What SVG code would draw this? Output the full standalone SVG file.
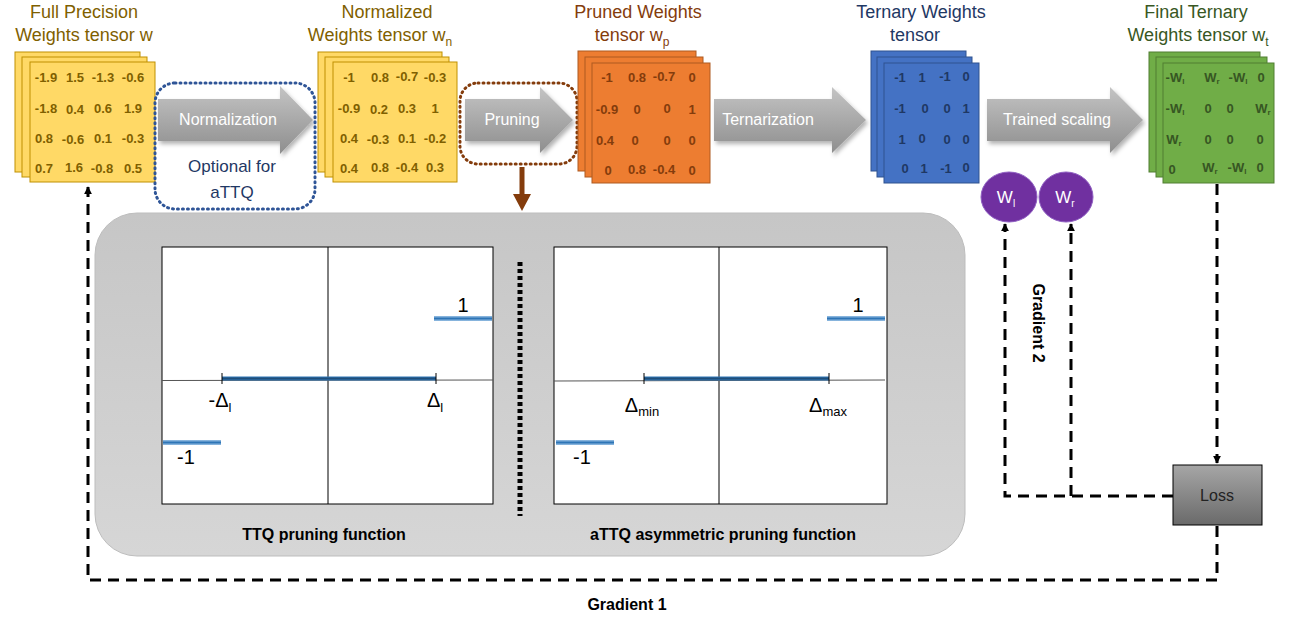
<svg xmlns="http://www.w3.org/2000/svg" width="1305" height="621" viewBox="0 0 1305 621">
<defs>
<linearGradient id="arrowG" x1="0" y1="0" x2="0" y2="1">
<stop offset="0" stop-color="#c4c4c4"/><stop offset="1" stop-color="#8e8e8e"/>
</linearGradient>
<linearGradient id="panelG" x1="0" y1="0" x2="0" y2="1">
<stop offset="0" stop-color="#c6c6c6"/><stop offset="1" stop-color="#d6d6d6"/>
</linearGradient>
<linearGradient id="lossG" x1="0" y1="0" x2="0" y2="1">
<stop offset="0" stop-color="#a6a6a6"/><stop offset="1" stop-color="#6a6a6a"/>
</linearGradient>
<linearGradient id="stepG" x1="0" y1="0" x2="0" y2="1">
<stop offset="0" stop-color="#9dc3e6"/><stop offset="0.5" stop-color="#2e75b6"/><stop offset="1" stop-color="#9dc3e6"/>
</linearGradient>
<linearGradient id="stepD" x1="0" y1="0" x2="0" y2="1">
<stop offset="0" stop-color="#2e75b6"/><stop offset="0.5" stop-color="#1f4e79"/><stop offset="1" stop-color="#2e75b6"/>
</linearGradient>
<filter id="sh" x="-10%" y="-10%" width="130%" height="140%">
<feDropShadow dx="2" dy="3" stdDeviation="2" flood-color="#000" flood-opacity="0.3"/>
</filter>
<marker id="ah" viewBox="0 0 10 10" refX="9" refY="5" markerWidth="8" markerHeight="8" markerUnits="userSpaceOnUse" orient="auto">
<path d="M0,0 L10,5 L0,10 Z" fill="#000"/>
</marker>
<style>
.lbl{font-family:"Liberation Sans",Arial,sans-serif;font-size:18px;text-anchor:middle}
.cell{font-family:"Liberation Sans",Arial,sans-serif;font-size:13px;font-weight:bold;text-anchor:middle}
.arrtxt{font-family:"Liberation Sans",Arial,sans-serif;font-size:16px;fill:#fff;text-anchor:middle}
.ax{stroke:#000;stroke-width:1;fill:none}
.gtxt{font-family:"Liberation Sans",Arial,sans-serif;font-size:20px;fill:#000;text-anchor:middle}
.btxt{font-family:"Liberation Sans",Arial,sans-serif;font-size:16px;font-weight:bold;fill:#000;text-anchor:middle}
.dash{stroke:#000;stroke-width:3;stroke-dasharray:11 7;fill:none}
.y{fill:#ffd966;stroke:#bf9000;stroke-width:1}
.o{fill:#ed7d31;stroke:#ae5a21;stroke-width:1}
.b{fill:#4472c4;stroke:#2f528f;stroke-width:1}
.g{fill:#70ad47;stroke:#507e32;stroke-width:1}
.st{fill:url(#stepG)}
.sd{fill:url(#stepD)}
</style>
</defs>
<rect width="1305" height="621" fill="#fff"/>

<!-- gray panel -->
<g id="panel">
<rect x="95" y="213" width="870" height="343" rx="42" fill="url(#panelG)" stroke="#bdbdbd" stroke-width="1"/>
</g>

<!-- Full precision tensor -->
<g id="tensor-full">
<text class="lbl" x="84" y="18" fill="#7f6000">Full Precision</text>
<text class="lbl" x="84" y="41" fill="#7f6000">Weights tensor w</text>
<rect class="y" x="15" y="52" width="125" height="120"/>
<rect class="y" x="22" y="57" width="125" height="120"/>
<rect class="y" x="30" y="62" width="125" height="120"/>
<g class="cell" fill="#7f6000">
<text x="46" y="82">-1.9</text><text x="75" y="82">1.5</text><text x="103" y="82">-1.3</text><text x="133" y="82">-0.6</text>
<text x="46" y="113">-1.8</text><text x="75" y="114">0.4</text><text x="103" y="113">0.6</text><text x="133" y="113">1.9</text>
<text x="44" y="143">0.8</text><text x="73" y="144">-0.6</text><text x="103" y="143">0.1</text><text x="133" y="143">-0.3</text>
<text x="44" y="173">0.7</text><text x="74" y="172">1.6</text><text x="102" y="173">-0.8</text><text x="133" y="173">0.5</text>
</g>
</g>

<!-- Normalization arrow + optional box -->
<g id="normalization">
<path d="M158,99 H280 V86 L313,120 L280,154 V141 H158 Z" fill="url(#arrowG)" filter="url(#sh)"/>
<text class="arrtxt" x="228" y="125">Normalization</text>
<rect x="155" y="83" width="160" height="126" rx="20" fill="none" stroke="#2f5597" stroke-width="3" stroke-dasharray="1 4" stroke-linecap="round"/>
<text class="lbl" x="232" y="172" fill="#1f3864" style="font-size:17px">Optional for</text>
<text class="lbl" x="232" y="198" fill="#1f3864" style="font-size:17px">aTTQ</text>
</g>

<!-- Normalized tensor -->
<g id="tensor-normalized">
<text class="lbl" x="387" y="18" fill="#7f6000">Normalized</text>
<text class="lbl" x="380" y="41" fill="#7f6000">Weights tensor w<tspan dy="5" font-size="12">n</tspan></text>
<rect class="y" x="318" y="52" width="124" height="120"/>
<rect class="y" x="325" y="57" width="124" height="120"/>
<rect class="y" x="333" y="62" width="124" height="120"/>
<g class="cell" fill="#7f6000">
<text x="349" y="82">-1</text><text x="380" y="82">0.8</text><text x="407" y="81">-0.7</text><text x="435" y="82">-0.3</text>
<text x="349" y="113">-0.9</text><text x="379" y="114">0.2</text><text x="407" y="113">0.3</text><text x="435" y="113">1</text>
<text x="349" y="143">0.4</text><text x="378" y="144">-0.3</text><text x="407" y="143">0.1</text><text x="435" y="143">-0.2</text>
<text x="349" y="173">0.4</text><text x="380" y="172">0.8</text><text x="407" y="172">-0.4</text><text x="435" y="172">0.3</text>
</g>
</g>

<!-- Pruning arrow + box -->
<g id="pruning">
<path d="M465,99 H540 V87 L573,120 L540,153 V141 H465 Z" fill="url(#arrowG)" filter="url(#sh)"/>
<text class="arrtxt" x="512" y="125">Pruning</text>
<rect x="460" y="83" width="117" height="81" rx="18" fill="none" stroke="#843c0c" stroke-width="3" stroke-dasharray="1 4" stroke-linecap="round"/>
<path d="M519.5,167 H524.5 V194 H531 L522,211 L513,194 H519.5 Z" fill="#843c0c"/>
</g>

<!-- Pruned tensor -->
<g id="tensor-pruned">
<text class="lbl" x="638" y="18" fill="#843c0c">Pruned Weights</text>
<text class="lbl" x="632" y="41" fill="#843c0c">tensor w<tspan dy="5" font-size="12">p</tspan></text>
<rect class="o" x="578" y="51" width="118" height="120"/>
<rect class="o" x="585" y="57" width="118" height="120"/>
<rect class="o" x="592" y="63" width="118" height="120"/>
<g class="cell" fill="#843c0c">
<text x="607" y="82">-1</text><text x="637" y="82">0.8</text><text x="664" y="81">-0.7</text><text x="692" y="82">0</text>
<text x="607" y="114">-0.9</text><text x="637" y="114">0</text><text x="667" y="113">0</text><text x="692" y="114">1</text>
<text x="605" y="145">0.4</text><text x="635" y="145">0</text><text x="667" y="145">0</text><text x="692" y="145">0</text>
<text x="608" y="175">0</text><text x="637" y="174">0.8</text><text x="664" y="174">-0.4</text><text x="692" y="175">0</text>
</g>
</g>

<!-- Ternarization arrow -->
<g id="ternarization">
<path d="M714,99 H832 V87 L866,120 L832,153 V141 H714 Z" fill="url(#arrowG)" filter="url(#sh)"/>
<text class="arrtxt" x="768" y="125">Ternarization</text>
</g>

<!-- Ternary tensor -->
<g id="tensor-ternary">
<text class="lbl" x="921" y="18" fill="#1f3864">Ternary Weights</text>
<text class="lbl" x="915" y="41" fill="#1f3864">tensor</text>
<rect class="b" x="871" y="51" width="95" height="120"/>
<rect class="b" x="877" y="57" width="95" height="120"/>
<rect class="b" x="884" y="63" width="95" height="120"/>
<g class="cell" fill="#1f3864">
<text x="900" y="82">-1</text><text x="922" y="82">1</text><text x="945" y="81">-1</text><text x="966" y="81">0</text>
<text x="900" y="113">-1</text><text x="925" y="113">0</text><text x="947" y="113">0</text><text x="966" y="113">1</text>
<text x="902" y="144">1</text><text x="922" y="143">0</text><text x="947" y="144">0</text><text x="966" y="144">0</text>
<text x="905" y="173">0</text><text x="924" y="173">1</text><text x="946" y="173">-1</text><text x="966" y="172">0</text>
</g>
</g>

<!-- Trained scaling arrow -->
<g id="trained-scaling">
<path d="M987,99 H1110 V87 L1143,120 L1110,153 V141 H987 Z" fill="url(#arrowG)" filter="url(#sh)"/>
<text class="arrtxt" x="1057" y="125">Trained scaling</text>
</g>

<!-- Final tensor -->
<g id="tensor-final">
<text class="lbl" x="1196" y="18" fill="#385723">Final Ternary</text>
<text class="lbl" x="1198" y="41" fill="#385723">Weights tensor w<tspan dy="5" font-size="12">t</tspan></text>
<rect class="g" x="1149" y="52" width="111" height="120"/>
<rect class="g" x="1156" y="57" width="111" height="120"/>
<rect class="g" x="1163" y="63" width="111" height="120"/>
<g class="cell" fill="#375623">
<text x="1175" y="82">-W<tspan font-size="8" dy="2">l</tspan></text><text x="1212" y="82">W<tspan font-size="8" dy="2">r</tspan></text><text x="1238" y="82">-W<tspan font-size="8" dy="2">l</tspan></text><text x="1261" y="82">0</text>
<text x="1175" y="113">-W<tspan font-size="8" dy="2">l</tspan></text><text x="1208" y="113">0</text><text x="1230" y="113">0</text><text x="1263" y="113">W<tspan font-size="8" dy="2">r</tspan></text>
<text x="1174" y="144">W<tspan font-size="8" dy="2">r</tspan></text><text x="1208" y="144">0</text><text x="1230" y="144">0</text><text x="1260" y="144">0</text>
<text x="1172" y="174">0</text><text x="1210" y="172">W<tspan font-size="8" dy="2">r</tspan></text><text x="1237" y="172">-W<tspan font-size="8" dy="2">l</tspan></text><text x="1260" y="172">0</text>
</g>
</g>

<!-- Wl / Wr -->
<g id="wl">
<ellipse cx="1009" cy="197" rx="28" ry="25" fill="#7030a0" stroke="#8f5fc2" stroke-width="1"/>
<text x="1006" y="203" fill="#fff" font-family="Liberation Sans, Arial, sans-serif" font-size="17" text-anchor="middle">W<tspan font-size="10" dy="4">l</tspan></text>
</g>
<g id="wr">
<ellipse cx="1066" cy="197" rx="27" ry="25" fill="#7030a0" stroke="#8f5fc2" stroke-width="1"/>
<text x="1065" y="203" fill="#fff" font-family="Liberation Sans, Arial, sans-serif" font-size="17" text-anchor="middle">W<tspan font-size="10" dy="4">r</tspan></text>
</g>

<!-- Loss -->
<g id="loss">
<rect x="1173" y="465" width="89" height="60" fill="url(#lossG)" stroke="#000" stroke-width="1"/>
<text x="1217" y="501" font-family="Liberation Sans, Arial, sans-serif" font-size="16" fill="#222" text-anchor="middle">Loss</text>
</g>

<!-- TTQ graph -->
<g id="graph-ttq">
<rect x="162" y="247" width="331" height="257" fill="#fff" stroke="#000" stroke-width="1"/>
<line class="ax" x1="328" y1="247" x2="328" y2="504"/>
<line x1="162" y1="380.5" x2="493" y2="380" stroke="#555" stroke-width="1"/>
<rect class="sd" x="222" y="376.5" width="214" height="4"/>
<line class="ax" x1="222" y1="373" x2="222" y2="384"/>
<line class="ax" x1="436" y1="373" x2="436" y2="384"/>
<rect class="st" x="434" y="316" width="58" height="5"/>
<rect class="st" x="163" y="440" width="58" height="5"/>
<text class="gtxt" x="463" y="312">1</text>
<text class="gtxt" x="220" y="407">-Δ<tspan font-size="13" dy="5">l</tspan></text>
<text class="gtxt" x="435" y="407">Δ<tspan font-size="13" dy="5">l</tspan></text>
<text class="gtxt" x="186" y="464">-1</text>
<text class="btxt" x="324" y="540">TTQ pruning function</text>
</g>

<!-- separator -->
<line id="separator" x1="520" y1="262" x2="520" y2="516" stroke="#000" stroke-width="5" stroke-dasharray="4 3"/>

<!-- aTTQ graph -->
<g id="graph-attq">
<rect x="554" y="247" width="333" height="257" fill="#fff" stroke="#000" stroke-width="1"/>
<line class="ax" x1="719" y1="247" x2="719" y2="504"/>
<line x1="554" y1="381" x2="885" y2="380" stroke="#555" stroke-width="1"/>
<rect class="sd" x="644" y="376.5" width="185" height="4"/>
<line class="ax" x1="644" y1="373" x2="644" y2="384"/>
<line class="ax" x1="829" y1="373" x2="829" y2="384"/>
<rect class="st" x="827" y="316" width="58" height="5"/>
<rect class="st" x="556" y="440" width="58" height="5"/>
<text class="gtxt" x="858" y="312">1</text>
<text class="gtxt" x="642" y="412">Δ<tspan font-size="13" dy="4">min</tspan></text>
<text class="gtxt" x="828" y="412">Δ<tspan font-size="13" dy="4">max</tspan></text>
<text class="gtxt" x="582" y="464">-1</text>
<text class="btxt" x="723" y="540">aTTQ asymmetric pruning function</text>
</g>

<!-- connectors -->
<g id="connectors">
<path class="dash" d="M1217,184 V463" marker-end="url(#ah)"/>
<path class="dash" d="M1173,496 H1005 V224" marker-end="url(#ah)"/>
<path class="dash" d="M1071,496 V224" marker-end="url(#ah)"/>
<path class="dash" d="M1217,526 V580 H88 V187" marker-end="url(#ah)"/>
<text class="btxt" x="627" y="610">Gradient 1</text>
<text class="btxt" transform="translate(1033,323) rotate(90)" x="0" y="0">Gradient 2</text>
</g>
</svg>
